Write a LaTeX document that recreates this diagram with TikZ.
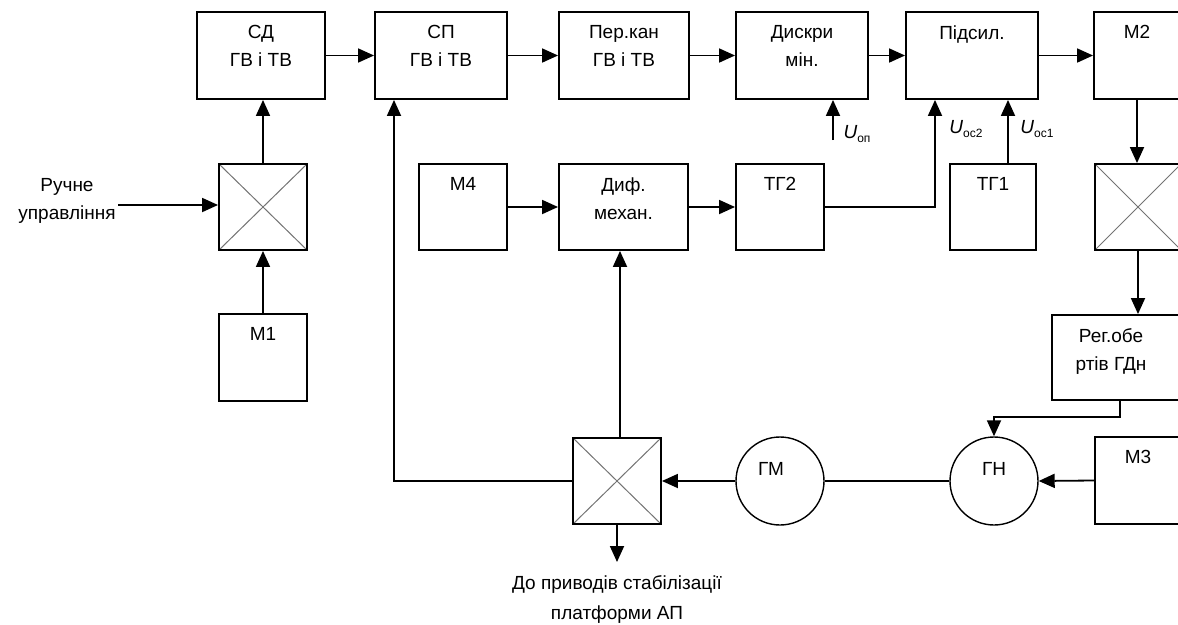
\documentclass[tikz,border=0pt]{standalone}
\usepackage{fontspec}
\newfontfamily\dfont{Liberation Sans}
\usetikzlibrary{arrows.meta}
\newcommand\myU[1]{{\itshape U}\raisebox{-4pt}{\fontsize{12}{12}\selectfont #1}}
\begin{document}
\begin{tikzpicture}[x=1pt,y=1pt,
  every node/.style={font=\dfont\fontsize{19}{28}\selectfont},
  blk/.style={draw, line width=1.9pt, inner sep=0pt, minimum height=87pt},
  crs/.style={blk, minimum width=88pt, minimum height=86pt,
    path picture={\draw[black!55, line width=1pt]
      (path picture bounding box.north west) -- (path picture bounding box.south east)
      (path picture bounding box.north east) -- (path picture bounding box.south west);}},
  circ/.style={draw, circle, line width=1.4pt, minimum size=88pt, inner sep=0pt},
  inl/.style={anchor=north, inner sep=0pt, align=center, yshift=-14pt},
  inc/.style={anchor=north, inner sep=0pt, align=center, yshift=-26pt},
  txt/.style={anchor=north, inner sep=0pt, align=center},
  ln/.style={line width=1.8pt},
  arr/.style={line width=1.8pt, -{Triangle[length=16pt,width=14pt]}}
]
\useasboundingbox (0,0) rectangle (1178,-624);
\clip (0,0) rectangle (1178,-624);

% top row
\node[blk, minimum width=128pt, label={[inl]north:СД\\ГВ і ТВ}] (sd) at (261,-55.5) {};
\node[blk, minimum width=132pt, label={[inl]north:СП\\ГВ і ТВ}] (sp) at (441,-55.5) {};
\node[blk, minimum width=130pt, label={[inl]north:Пер.кан\\ГВ і ТВ}] (per) at (624,-55.5) {};
\node[blk, minimum width=132pt, label={[inl]north:Дискри\\мін.}] (dis) at (802,-55.5) {};
\node[blk, minimum width=132pt, label={[inl]north:Підсил.}] (pid) at (972,-55.5) {};
\node[blk, minimum width=86pt, label={[inl]north:М2}] (m2) at (1137,-55.5) {};

% middle row
\node[crs] (cl) at (263,-207) {};
\node[blk, minimum width=88pt, minimum height=86pt, label={[inl]north:М4}] (m4) at (463,-207) {};
\node[blk, minimum width=129pt, minimum height=86pt, label={[inl]north:Диф.\\механ.}] (dif) at (623.5,-207) {};
\node[blk, minimum width=88pt, minimum height=86pt, label={[inl]north:ТГ2}] (tg2) at (780,-207) {};
\node[blk, minimum width=86pt, minimum height=86pt, label={[inl]north:ТГ1}] (tg1) at (993,-207) {};
\node[crs, minimum width=86pt] (cr) at (1138,-207) {};

% lower part
\node[blk, minimum width=88pt, label={[inl]north:М1}] (m1) at (263,-357.5) {};
\node[blk, minimum width=130pt, minimum height=85pt, label={[inl,xshift=-6pt]north:Рег.обе\\ртів ГДн}] (reg) at (1117,-357.5) {};
\node[blk, minimum width=86pt, label={[inl]north:М3}] (m3) at (1138,-480.5) {};
\node[circ, label={[inc]north:ГН}] (gn) at (994,-481) {};
\node[circ, label={[inc,xshift=-9pt]north:ГМ}] (gm) at (780,-481) {};
\node[crs] (cb) at (617,-481) {};

% free texts
\node[txt] (hand) at (67,-178) {Ручне\\управління};
\node[txt] (dest) at (617,-575) {До приводів стабілізації\\[2pt]платформи АП};
\node (lon) at (857,-134) {\myU{оп}};
\node (loc2) at (966,-129) {\myU{ос2}};
\node (loc1) at (1037,-129) {\myU{ос1}};

% helper coordinates
\coordinate (h1) at (118,-205);
\coordinate (uon) at (833,-140);
\coordinate (tgc) at (935,-207);
\coordinate (tg1c) at (1008,-164);
\coordinate (r1) at (1120,-417);
\coordinate (spc) at (394,-481);
\coordinate (cbd) at (617,-562);
\coordinate (dfc) at (620,0);

% connectors
\draw[arr] (h1) -- (h1 -| cl.west);
\draw[arr] (cl.north) -- (cl.north |- sd.south);
\draw[arr] (m1.north) -- (cl.south);
\draw[arr] (sd.east) -- (sp.west);
\draw[arr] (sp.east) -- (per.west);
\draw[arr] (per.east) -- (dis.west);
\draw[arr] (dis.east) -- (pid.west);
\draw[arr] (pid.east) -- (m2.west);
\draw[arr] (m2.south) -- (m2.south |- cr.north);
\draw[arr] (cr.south) -- (cr.south |- reg.north);
\draw[arr] (r1 |- reg.south) -- (r1) -| (gn.north);
\draw[arr] (m3.west) -- (gn.east);
\draw[ln] (gn.west) -- (gm.east);
\draw[arr] (gm.west) -- (cb.east);
\draw[arr] (dfc |- cb.north) -- (dfc |- dif.south);
\draw[arr] (cb.west) -- (spc) -- (spc |- sp.south);
\draw[arr] (cb.south) -- (cbd);
\draw[arr] (m4.east) -- (dif.west);
\draw[arr] (dif.east) -- (tg2.west);
\draw[arr] (tg2.east) -- (tgc) -- (tgc |- pid.south);
\draw[arr] (tg1c |- tg1.north) -- (tg1c |- pid.south);
\draw[arr] (uon) -- (uon |- dis.south);
\end{tikzpicture}
\end{document}
